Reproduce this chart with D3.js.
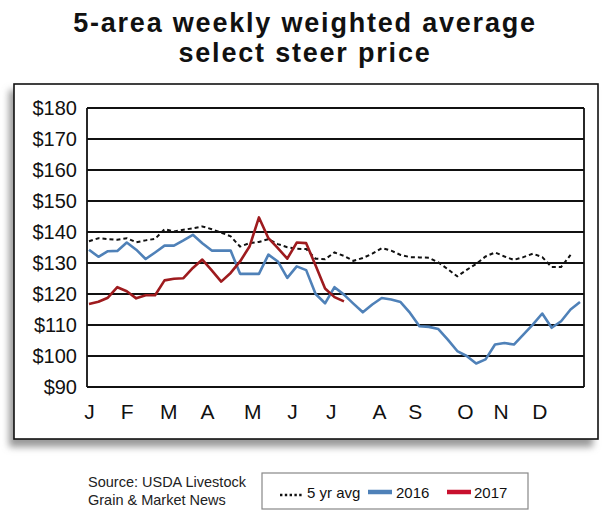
<!DOCTYPE html>
<html>
<head>
<meta charset="utf-8">
<script src="https://cdn.jsdelivr.net/npm/d3@7"></script>
<style>
  html, body { margin: 0; padding: 0; background: #fff; }
  svg { display: block; }
</style>
</head>
<body>
<script>
// ---------- data ----------
const titleLines = ["5-area weekly weighted average", "select steer price"];
const yTicks = [90, 100, 110, 120, 130, 140, 150, 160, 170, 180];
const monthLabels = ["J", "F", "M", "A", "M", "J", "J", "A", "S", "O", "N", "D"];
const monthWeeks = [0, 4, 8.4, 12.5, 17.3, 21.5, 25.6, 30.7, 34.5, 39.8, 43.6, 47.7];

const avg5yr = [137.0, 138.0, 137.7, 137.5, 138.0, 136.7, 137.3, 137.8, 140.9, 140.2,
  140.7, 141.2, 141.8, 140.9, 139.8, 138.6, 135.3, 136.4, 136.8, 137.7,
  136.1, 135.1, 134.6, 134.5, 131.4, 131.2, 133.4, 132.3, 130.7, 131.6,
  133.0, 134.8, 134.0, 132.6, 131.9, 131.8, 131.7, 130.2, 128.0, 125.7,
  127.8, 129.7, 132.1, 133.4, 132.1, 131.0, 131.9, 133.0, 131.9, 128.7,
  128.7, 132.6];
const y2016 = [134.3, 132.0, 133.8, 133.9, 136.6, 134.3, 131.3, 133.4, 135.6, 135.6,
  137.3, 139.1, 136.4, 134.0, 134.0, 134.0, 126.5, 126.5, 126.5, 132.7,
  130.5, 125.2, 128.9, 127.7, 120.0, 117.0, 122.2, 119.8, 116.9, 114.1,
  116.6, 118.7, 118.2, 117.4, 113.9, 109.6, 109.4, 108.7, 105.3, 101.6,
  100.0, 97.6, 98.9, 103.7, 104.2, 103.7, 106.9, 110.1, 113.7, 109.1,
  111.2, 115.0, 117.4];
const y2017 = [116.8, 117.5, 118.8, 122.2, 120.9, 118.6, 119.6, 119.6, 124.4, 124.9,
  125.1, 128.4, 131.1, 127.6, 124.0, 126.8, 130.5, 135.3, 144.7, 138.0,
  134.8, 131.4, 136.6, 136.4, 129.2, 121.8, 119.0, 117.6];

const sourceLines = ["Source: USDA Livestock", "Grain & Market News"];
const legendItems = [
  { label: "5 yr avg", key: "avg" },
  { label: "2016", key: "y16" },
  { label: "2017", key: "y17" }
];

// ---------- layout ----------
const W = 610, H = 520;
const plot = { left: 87, right: 584, top: 108, bottom: 387 };
const textFont = "'Liberation Sans', Arial, sans-serif";

const colors = { avg: "#111", y16: "#4f81b8", y17: "#9e1b1e", y17legend: "#c8102e" };

const svg = d3.select("body").append("svg").attr("width", W).attr("height", H);

const defs = svg.append("defs");
const filt = defs.append("filter").attr("id", "shadow")
  .attr("x", "-10%").attr("y", "-10%").attr("width", "120%").attr("height", "130%");
filt.append("feGaussianBlur").attr("stdDeviation", 3.5);

// Title
svg.append("g").selectAll("text").data(titleLines).join("text")
  .attr("x", W / 2)
  .attr("y", (d, i) => 32 + i * 30)
  .attr("text-anchor", "middle")
  .attr("font-family", "'Liberation Sans', Arial, sans-serif")
  .attr("font-weight", "bold")
  .attr("font-size", 27)
  .attr("letter-spacing", 1.8)
  .attr("fill", "#111")
  .text(d => d);

// Frame shadow + frame
svg.append("rect").attr("x", 9).attr("y", 90).attr("width", 584).attr("height", 357)
  .attr("fill", "#9a9a9a").attr("filter", "url(#shadow)");
svg.append("rect").attr("x", 14).attr("y", 84).attr("width", 584).attr("height", 355)
  .attr("fill", "#fff").attr("stroke", "#111").attr("stroke-width", 1.6);

// Scales
const x = d3.scaleLinear().domain([0, 52]).range([89, 580]);
const y = d3.scaleLinear().domain([90, 180]).range([plot.bottom, plot.top]);

// Gridlines (horizontal)
const gGrid = svg.append("g");
gGrid.selectAll("line").data(yTicks).join("line")
  .attr("x1", plot.left).attr("x2", plot.right)
  .attr("y1", d => y(d)).attr("y2", d => y(d))
  .attr("stroke", "#111").attr("stroke-width", 1.8);
gGrid.append("line").attr("x1", plot.left).attr("x2", plot.left)
  .attr("y1", plot.top).attr("y2", plot.bottom).attr("stroke", "#111").attr("stroke-width", 1.8);
gGrid.append("line").attr("x1", plot.right).attr("x2", plot.right)
  .attr("y1", plot.top).attr("y2", plot.bottom).attr("stroke", "#111").attr("stroke-width", 1.8);

// Y axis labels
const yAxis = d3.axisLeft(y).tickValues(yTicks).tickSize(0).tickPadding(10)
  .tickFormat(d => "$" + d);
const gy = svg.append("g").attr("transform", `translate(${plot.left},0)`).call(yAxis);
gy.select(".domain").remove();
gy.selectAll("text").attr("font-family", textFont).attr("font-size", 20).attr("fill", "#111");

// X axis month labels
const xAxis = d3.axisBottom(x).tickValues(monthWeeks).tickSize(0).tickPadding(0)
  .tickFormat((d, i) => monthLabels[i]);
const gx = svg.append("g").attr("transform", `translate(0,${plot.bottom + 17})`).call(xAxis);
gx.select(".domain").remove();
gx.selectAll("text").attr("font-family", textFont).attr("font-size", 21).attr("fill", "#111");

// Lines
const line = d3.line().x((d, i) => x(i)).y(d => y(d));
svg.append("path").datum(y2016).attr("d", line)
  .attr("fill", "none").attr("stroke", colors.y16).attr("stroke-width", 2.6)
  .attr("stroke-linejoin", "round");
svg.append("path").datum(avg5yr).attr("d", line)
  .attr("fill", "none").attr("stroke", colors.avg).attr("stroke-width", 2)
  .attr("stroke-dasharray", "4,3");
svg.append("path").datum(y2017).attr("d", line)
  .attr("fill", "none").attr("stroke", colors.y17).attr("stroke-width", 2.6)
  .attr("stroke-linejoin", "round");

// Source text
svg.append("g").selectAll("text").data(sourceLines).join("text")
  .attr("x", 88).attr("y", (d, i) => 487 + i * 18)
  .attr("font-family", textFont).attr("font-size", 14.5).attr("fill", "#222")
  .text(d => d);

// Legend
const lg = svg.append("g");
lg.append("rect").attr("x", 262).attr("y", 473).attr("width", 266).attr("height", 36)
  .attr("fill", "#fff").attr("stroke", "#888").attr("stroke-width", 1.2);
const legendSwatchX = [280, 368, 447];
const legendTextX = [307, 396, 474];
legendItems.forEach((it, i) => {
  const sw = lg.append("line")
    .attr("x1", legendSwatchX[i]).attr("x2", legendSwatchX[i] + 24)
    .attr("y1", 492).attr("y2", 492);
  if (it.key === "avg") {
    sw.attr("x2", legendSwatchX[i] + 23)
      .attr("stroke", "#111").attr("stroke-width", 2.4).attr("stroke-dasharray", "2.4,2.4")
      .attr("y1", 495).attr("y2", 495);
  } else {
    sw.attr("stroke", it.key === "y16" ? colors.y16 : colors.y17legend).attr("stroke-width", 4.5);
  }
  lg.append("text").attr("x", legendTextX[i]).attr("y", 498)
    .attr("font-family", textFont).attr("font-size", 15).attr("fill", "#111")
    .text(it.label);
});
</script>
</body>
</html>
